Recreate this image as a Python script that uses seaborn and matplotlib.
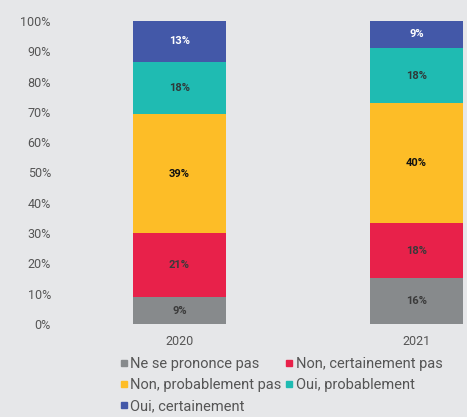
import matplotlib
matplotlib.use("Agg")
import matplotlib.pyplot as plt
from matplotlib.lines import Line2D
import numpy as np
import pandas as pd
import seaborn as sns

years = ["2020", "2021"]
categories = ["Ne se prononce pas", "Non, certainement pas", "Non, probablement pas",
              "Oui, probablement", "Oui, certainement"]
# values (%)
ne_se_prononce = [8.9, 15.3]
non_certainement = [21.0, 17.9]
non_probablement = [39.3, 39.6]
oui_probablement = [17.4, 18.3]
oui_certainement = [13.4, 8.9]
# printed labels
labels = [["9%", "16%"], ["21%", "18%"], ["39%", "40%"], ["18%", "18%"], ["13%", "9%"]]

colors = ["#878a8c", "#e8214a", "#fdbd27", "#1fbbb2", "#4358a8"]
text_colors = ["#3a3a3a", "#3a3a3a", "#111111", "#2f3a3a", "#ffffff"]
bg = "#e6e7e9"

series = [ne_se_prononce, non_certainement, non_probablement, oui_probablement, oui_certainement]
df = pd.DataFrame({"year": years})
for name, vals in zip(categories, series):
    df[name] = vals
cum = df[categories].cumsum(axis=1)

sns.set_style("white")
plt.rcParams["font.family"] = ["Roboto", "DejaVu Sans"]

fig = plt.figure(figsize=(4.67, 4.17), dpi=100, facecolor=bg)
ax = fig.add_axes([55 / 467, 93 / 417, 412 / 467, 303 / 417])
ax.set_facecolor(bg)

# draw cumulative totals from top down so each layer covers the one above it
for i in range(len(categories) - 1, -1, -1):
    sns.barplot(x=df["year"], y=cum[categories[i]], color=colors[i],
                width=0.39, saturation=1, ax=ax, linewidth=0)

for i, name in enumerate(categories):
    for j in range(len(years)):
        top = cum[name][j]
        mid = top - df[name][j] / 2
        ax.text(j, mid, labels[i][j], ha="center", va="center", fontsize=8,
                fontweight="bold", color=text_colors[i])

ax.set_xlim(-0.525, 1.213)
ax.set_ylim(0, 100)
ax.set_yticks(np.arange(0, 101, 10))
ax.set_yticklabels([f"{v}%" for v in range(0, 101, 10)])
ax.set_xlabel("")
ax.set_ylabel("")
ax.tick_params(axis="y", length=0, pad=3, labelsize=9, labelcolor="#555555")
ax.tick_params(axis="x", length=0, pad=8, labelsize=9, labelcolor="#555555")
sns.despine(ax=ax, left=True, bottom=True)

# row-wise legend order like the original
order = [0, 2, 4, 1, 3]
handles = [Line2D([], [], marker="s", linestyle="", color=colors[k], markersize=5) for k in order]
fig.legend(handles, [categories[k] for k in order], loc="upper left",
           bbox_to_anchor=(118 / 467, 1 - 357 / 417),
           ncol=2, frameon=False, fontsize=10.5, labelcolor="#555555",
           handletextpad=0.05, columnspacing=0.1, handlelength=0.8, labelspacing=0.5,
           borderaxespad=0, borderpad=0)

fig.savefig("out.png", dpi=100, facecolor=bg)
